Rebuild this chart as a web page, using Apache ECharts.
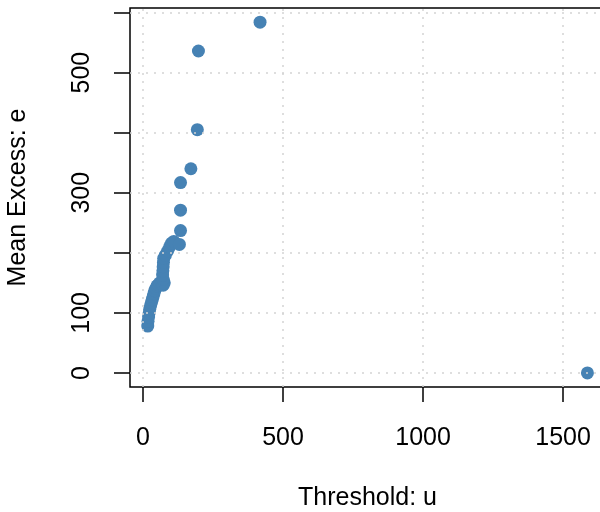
<!DOCTYPE html>
<html>
<head>
<meta charset="utf-8">
<script src="https://cdn.jsdelivr.net/npm/echarts@6/dist/echarts.min.js"></script>
<style>html,body{margin:0;padding:0;background:#fff;}#c{width:600px;height:512px;}</style>
</head>
<body>
<div id="c"></div>
<script>
const thresholds = [17, 18, 20, 22, 24, 27, 30, 33, 36, 39, 42, 46, 50, 55, 60, 66, 72, 76, 72, 70, 71, 72, 73, 74, 80, 88, 95, 102, 110, 130, 134, 134, 134, 171, 194, 198, 418, 1587];
const meanExcess = [78, 86, 93, 100, 106, 112, 117, 122, 127, 132, 137, 141, 145, 147, 150, 148, 146, 150, 156, 163, 170, 177, 184, 191, 196, 203, 210, 216, 219, 214, 237, 271, 317, 340, 405, 536, 584, 0];
const xTicks = [0, 500, 1000, 1500];
const yTicks = [0, 100, 200, 300, 400, 500, 600];
const yLabels = [0, 100, 300, 500];

const font = 'Liberation Sans, Arial, sans-serif';
const points = thresholds.map((x, i) => [x, meanExcess[i]]);
const gridLines = xTicks.map(v => ({ xAxis: v })).concat(yTicks.map(v => ({ yAxis: v })));

const chart = echarts.init(document.getElementById('c'), null, { renderer: 'canvas' });
chart.setOption({
  animation: false,
  backgroundColor: '#fff',
  grid: { left: 130, top: 8, width: 475, height: 379, show: true, borderColor: '#000', borderWidth: 1.5, containLabel: false, outerBoundsMode: 'none' },
  xAxis: {
    type: 'value', min: -46.4, max: 1649.8,
    name: 'Threshold: u', nameLocation: 'middle', nameGap: 99,
    nameTextStyle: { fontFamily: font, fontSize: 25, color: '#000' },
    axisLine: { show: false, onZero: false },
    axisTick: { show: true, inside: false, length: 15, customValues: xTicks, lineStyle: { color: '#000', width: 1.5 } },
    axisLabel: { customValues: xTicks, margin: 39, fontFamily: font, fontSize: 25, color: '#000', formatter: v => String(v) },
    splitLine: { show: false }
  },
  yAxis: {
    type: 'value', min: -23.4, max: 607.6,
    name: 'Mean Excess: e', nameLocation: 'middle', nameGap: 99, nameRotate: 90,
    nameTextStyle: { fontFamily: font, fontSize: 25, color: '#000' },
    axisLine: { show: false, onZero: false },
    axisTick: { show: true, inside: false, length: 16, customValues: yTicks, lineStyle: { color: '#000', width: 1.5 } },
    axisLabel: { customValues: yLabels, rotate: 90, margin: 35, fontFamily: font, fontSize: 25, color: '#000', formatter: v => String(v) },
    splitLine: { show: false }
  },
  series: [{
    type: 'scatter',
    data: points,
    symbol: 'circle',
    symbolSize: 13,
    itemStyle: { color: '#4682B4', opacity: 1 },
    markLine: {
      silent: true,
      symbol: ['none', 'none'],
      label: { show: false },
      lineStyle: { color: '#D3D3D3', type: [2, 6], width: 1.5 },
      emphasis: { disabled: true },
      data: gridLines
    }
  }]
});
</script>
</body>
</html>
